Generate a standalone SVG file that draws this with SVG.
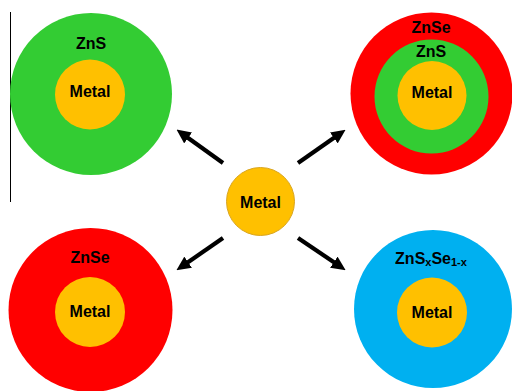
<svg xmlns="http://www.w3.org/2000/svg" width="512" height="391" viewBox="0 0 512 391">
<style>
text{font-family:"Liberation Sans",Arial,sans-serif;font-weight:bold;font-size:16px;fill:#000;text-anchor:middle;dominant-baseline:central}
.g{fill:#33CC33}.r{fill:#FF0000}.b{fill:#00B0F0}.m{fill:#FFC000}
.arr{stroke:#000;stroke-width:4.2;fill:none;marker-end:url(#ah)}
</style>
<defs>
<marker id="ah" markerWidth="3.4" markerHeight="3.2" refX="1.2" refY="1.6" orient="auto" markerUnits="strokeWidth" viewBox="0 0 3.4 3.2">
<path d="M0,0 L3.4,1.6 L0,3.2 Z" fill="#000"/>
</marker>
</defs>
<rect width="512" height="391" fill="#fff"/>
<line x1="10.5" y1="12" x2="10.5" y2="202" stroke="#000" stroke-width="1"/>
<g id="zns">
<circle class="g" cx="91" cy="94" r="81"/>
<circle class="m" cx="90" cy="94.5" r="35"/>
<text x="91" y="43">ZnS</text>
<text x="90" y="91">Metal</text>
</g>
<g id="zns-znse">
<circle class="r" cx="431.5" cy="93.5" r="81"/>
<circle class="g" cx="431.5" cy="96.5" r="57"/>
<circle class="m" cx="432" cy="95.5" r="34.5"/>
<text x="431" y="27">ZnSe</text>
<text x="431" y="51">ZnS</text>
<text x="432" y="92">Metal</text>
</g>
<g id="center">
<circle class="m" cx="260.5" cy="201.5" r="34" stroke="#D9A520" stroke-width="1"/>
<text x="260.5" y="202">Metal</text>
</g>
<g id="znse">
<circle class="r" cx="90.5" cy="310" r="82"/>
<circle class="m" cx="90" cy="312" r="35"/>
<text x="90" y="257">ZnSe</text>
<text x="90" y="311">Metal</text>
</g>
<g id="znsxse">
<circle class="b" cx="433" cy="309" r="79"/>
<circle class="m" cx="432" cy="312.5" r="35"/>
<text x="431" y="258">ZnS<tspan font-size="11" dy="4">x</tspan><tspan dy="-4">Se</tspan><tspan font-size="11" dy="4">1-x</tspan></text>
<text x="432" y="312">Metal</text>
</g>
<g id="connectors">
<line class="arr" x1="223" y1="163" x2="184" y2="135"/>
<line class="arr" x1="298" y1="163" x2="338" y2="135"/>
<line class="arr" x1="223" y1="238" x2="184" y2="265"/>
<line class="arr" x1="298" y1="238" x2="338" y2="265"/>
</g>
</svg>
